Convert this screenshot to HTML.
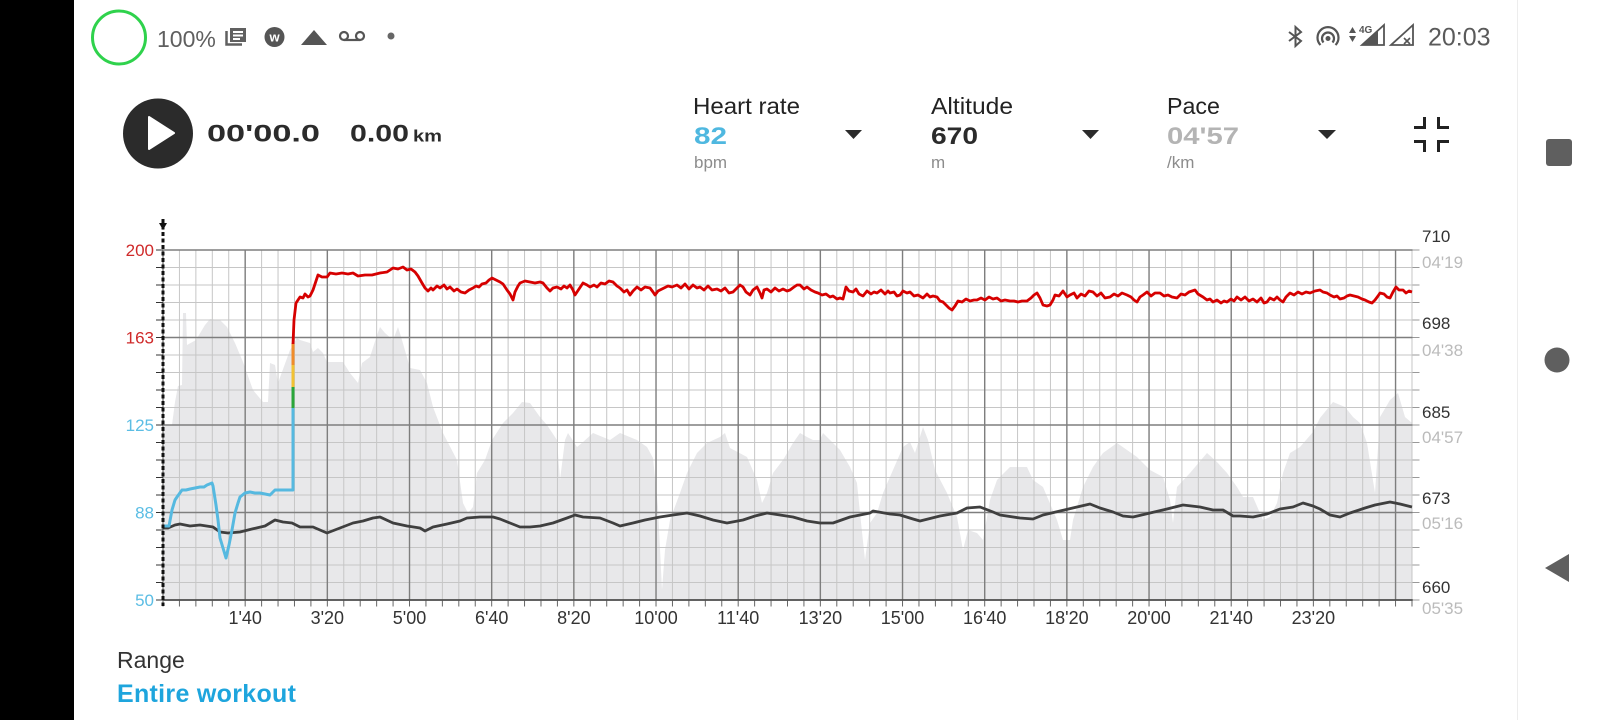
<!DOCTYPE html>
<html><head><meta charset="utf-8">
<style>
html,body{margin:0;padding:0;background:#fff;width:1600px;height:720px;overflow:hidden}
svg{display:block}
text{font-family:"Liberation Sans",Arial,sans-serif}
</style></head>
<body>
<svg width="1600" height="720" viewBox="0 0 1600 720" xmlns="http://www.w3.org/2000/svg">
<rect x="0" y="0" width="1600" height="720" fill="#fff"/>
<!-- left black bar -->
<rect x="0" y="0" width="74" height="720" fill="#000"/>
<!-- right nav bar -->
<line x1="1517.5" y1="0" x2="1517.5" y2="720" stroke="#ededed" stroke-width="1"/>
<rect x="1546" y="139" width="26" height="27" rx="3" fill="#5f5f5f"/>
<circle cx="1557" cy="360" r="12.5" fill="#5f5f5f"/>
<polygon points="1545,568 1569,554 1569,582" fill="#5f5f5f"/>

<!-- status bar left -->
<circle cx="119" cy="37.5" r="26.5" fill="none" stroke="#2fd24c" stroke-width="3"/>
<text x="157" y="47" font-size="23" fill="#5f5f5f">100%</text>
<path d="M226.5,31 V44.5 H242" fill="none" stroke="#606060" stroke-width="2.5"/>
<rect x="230" y="28" width="16" height="14" fill="#606060"/>
<rect x="233" y="31" width="10" height="2" fill="#fff"/>
<rect x="233" y="34.5" width="10" height="2" fill="#fff"/>
<rect x="233" y="38" width="7" height="2" fill="#fff"/>
<circle cx="274.5" cy="37" r="10" fill="#555"/>
<text x="274.5" y="41.5" font-size="13" font-weight="bold" fill="#fff" text-anchor="middle">w</text>
<polygon points="301,45 327,45 314,30" fill="#555"/>
<circle cx="344" cy="36" r="4" fill="none" stroke="#555" stroke-width="2.2"/>
<circle cx="360" cy="36" r="4" fill="none" stroke="#555" stroke-width="2.2"/>
<line x1="344" y1="40" x2="360" y2="40" stroke="#555" stroke-width="2.2"/>
<circle cx="391" cy="36" r="3.5" fill="#666"/>

<!-- status bar right -->
<path d="M1289,32 L1301,41 L1295.5,46 L1295.5,27 L1301,32 L1289,41" fill="none" stroke="#555" stroke-width="2"/>
<circle cx="1328" cy="38.5" r="2.5" fill="#555"/>
<path d="M1323.5,42.5 A6,6 0 1 1 1332.5,42.5" fill="none" stroke="#555" stroke-width="2.2"/>
<path d="M1320.5,45 A10.5,10.5 0 1 1 1335.5,45" fill="none" stroke="#555" stroke-width="2.2"/>
<polygon points="1349,33 1356,33 1352.5,27" fill="#555"/>
<polygon points="1349,36 1356,36 1352.5,42" fill="#555"/>
<text x="1359" y="33" font-size="10" font-weight="bold" fill="#555">4G</text>
<polygon points="1362,45 1384,45 1384,25" fill="none" stroke="#555" stroke-width="1.8"/>
<polygon points="1362,45 1378,45 1378,30.5" fill="#555"/>
<polygon points="1391,45 1413,45 1413,25" fill="none" stroke="#555" stroke-width="1.8"/>
<path d="M1404,38 L1410,44 M1410,38 L1404,44" stroke="#555" stroke-width="1.6"/>
<text x="1428" y="45.5" font-size="25" fill="#5a5a5a">20:03</text>

<!-- header -->
<circle cx="158" cy="133.5" r="35" fill="#2b2b2b"/>
<polygon points="149,117 149,149 174,133" fill="#fff" stroke="#fff" stroke-width="2" stroke-linejoin="round"/>
<text x="207" y="141.5" font-size="24" font-weight="bold" fill="#2b2b2b" textLength="113" lengthAdjust="spacingAndGlyphs">00'00.0</text>
<text x="350" y="141.5" font-size="24" font-weight="bold" fill="#2b2b2b" textLength="59" lengthAdjust="spacingAndGlyphs">0.00</text>
<text x="413" y="141.5" font-size="17" font-weight="bold" fill="#2b2b2b" textLength="29" lengthAdjust="spacingAndGlyphs">km</text>

<text x="693" y="114" font-size="23" fill="#222" textLength="107" lengthAdjust="spacingAndGlyphs">Heart rate</text>
<text x="694" y="144" font-size="24" font-weight="bold" fill="#4fb8e0" textLength="33" lengthAdjust="spacingAndGlyphs">82</text>
<text x="694" y="168" font-size="17" fill="#8c8c8c">bpm</text>
<polygon points="845,130 862,130 853.5,139" fill="#2b2b2b"/>

<text x="931" y="114" font-size="23" fill="#222" textLength="82" lengthAdjust="spacingAndGlyphs">Altitude</text>
<text x="931" y="144" font-size="24" font-weight="bold" fill="#2b2b2b" textLength="47" lengthAdjust="spacingAndGlyphs">670</text>
<text x="931" y="168" font-size="17" fill="#8c8c8c">m</text>
<polygon points="1082,130 1099,130 1090.5,139" fill="#2b2b2b"/>

<text x="1167" y="114" font-size="23" fill="#222" textLength="53" lengthAdjust="spacingAndGlyphs">Pace</text>
<text x="1167" y="144" font-size="24" font-weight="bold" fill="#b4b4b4" textLength="72" lengthAdjust="spacingAndGlyphs">04'57</text>
<text x="1167" y="168" font-size="17" fill="#8c8c8c">/km</text>
<polygon points="1318,130 1336,130 1327,139" fill="#2b2b2b"/>

<path d="M1414,127.5 H1424.5 V117 M1449,127.5 H1438.5 V117 M1414,141.5 H1424.5 V152 M1449,141.5 H1438.5 V152" fill="none" stroke="#222" stroke-width="3"/>

<!-- chart: pace area -->
<polygon fill="#e8e8ea" points="163,600 163,425 172,425 175,402 178,386 182,385 183,313 186,313 187,345 196,340 205,325 210,319 220,320 227,327 235,343 243,362 253,390 263,402 268,402 270,363 275,365 278,383 290,350 297,338 300,340 310,343 313,352 318,348 323,353 327,362 343,362 350,373 358,383 362,363 370,357 377,335 380,327 385,333 393,340 398,327 402,340 410,368 420,370 427,383 433,407 443,433 457,460 463,503 468,513 473,507 477,473 485,460 492,440 503,423 513,413 522,402 530,403 540,417 547,425 557,440 560,480 565,440 568,433 577,447 583,442 593,433 610,440 620,433 637,440 647,447 653,458 658,507 662,590 665,550 670,520 680,493 687,473 697,453 707,443 720,437 725,433 730,448 747,457 757,480 762,503 767,493 773,473 783,460 793,443 800,433 807,437 813,440 820,440 823,433 830,440 840,450 850,467 857,483 860,513 865,560 870,523 877,513 883,493 893,470 903,447 910,442 915,453 923,427 928,440 935,470 947,493 957,517 963,550 968,530 977,533 983,540 990,500 997,480 1010,467 1027,467 1033,480 1043,487 1057,520 1063,540 1070,540 1073,520 1083,487 1093,467 1103,453 1117,443 1127,450 1137,457 1150,470 1163,477 1170,500 1173,523 1177,487 1190,473 1207,453 1217,462 1227,473 1237,487 1243,497 1253,497 1263,520 1270,517 1277,503 1283,473 1290,453 1300,447 1313,432 1320,418 1333,402 1345,407 1353,417 1360,423 1367,443 1375,493 1380,417 1390,400 1398,393 1405,417 1412,423 1412,600"/>

<!-- grid -->
<path d="M162.5,425 H1413.5" stroke="#c6c6c6" stroke-width="350" stroke-dasharray="1 15.434" fill="none"/>
<path d="M787.5,249.5 V601" stroke="#c6c6c6" stroke-width="1250" stroke-dasharray="1 16.5" fill="none"/>
<path d="M162.3,425 H1413.5" stroke="#7e7e7e" stroke-width="350" stroke-dasharray="1.4 80.77" fill="none"/>
<path d="M787.5,249.3 V601" stroke="#7e7e7e" stroke-width="1250" stroke-dasharray="1.4 86.1" fill="none"/>
<line x1="163" y1="600" x2="1413" y2="600" stroke="#444" stroke-width="1.6"/>
<!-- ticks -->
<path d="M159.5,249.5 V601" stroke="#333" stroke-width="7" stroke-dasharray="1 16.5" fill="none"/>
<path d="M1416,249.5 V601" stroke="#999" stroke-width="7" stroke-dasharray="1 16.5" fill="none"/>
<path d="M162.5,603.5 H1413.5" stroke="#666" stroke-width="6" stroke-dasharray="1 15.434" fill="none"/>

<!-- altitude line -->
<polyline fill="none" stroke="#3f3f3f" stroke-width="2.8" stroke-linejoin="round" points="163,528 168,528 175,525 180,524 190,526 200,525 213,527 220,532 228,533 240,532 252,529 265,526 275,520 283,522 292,523 300,527 313,527 320,530 327,533 340,528 353,523 363,521 373,518 380,517 393,523 407,526 420,528 425,531 433,527 447,524 460,521 467,518 480,517 493,517 500,519 510,523 520,527 530,527 540,526 553,523 567,518 575,515 583,517 600,518 613,523 620,526 633,523 645,520 660,517 673,515 687,513 700,516 713,520 727,523 743,520 755,516 767,513 780,515 793,517 807,521 820,523 833,523 850,517 870,513 873,511 890,514 900,515 913,519 920,521 940,516 957,513 967,508 980,507 993,512 1000,515 1020,518 1033,519 1043,515 1060,511 1077,507 1090,504 1100,508 1113,512 1123,516 1133,517 1150,513 1167,509 1183,505 1200,507 1213,510 1223,510 1233,516 1240,516 1253,517 1267,514 1280,509 1293,507 1303,503 1313,506 1320,509 1330,515 1340,517 1350,513 1365,508 1375,505 1390,502 1400,504 1412,507"/>

<!-- heart rate -->
<polyline fill="none" stroke="#56b9e0" stroke-width="3" stroke-linejoin="round" points="163,526 169,526 172,510 175,500 177,497 182,490 186,490 190,489 195,488 200,487 204,487 207,485 212,483 213,486 216,505 218,520 220,538 223,548 226,558 229,545 232,530 235,513 238,503 240,497 245,493 250,492 255,493 260,493 265,494 270,495 273,492 275,490 280,490 285,490 290,490 293,490 293,408"/>
<line x1="293" y1="408" x2="293" y2="387" stroke="#2aa63a" stroke-width="3"/>
<line x1="293" y1="387" x2="293" y2="365" stroke="#f2c233" stroke-width="3"/>
<line x1="293" y1="365" x2="293" y2="343" stroke="#f08c2a" stroke-width="3"/>
<polyline fill="none" stroke="#d60000" stroke-width="2.8" stroke-linejoin="round" points="293,344 294,320 296,303 300,297 303,298 305,294 308,297 310,296 313,290 316,281 318,275 322,277 327,277 330,273 336,274 342,273 348,274 353,273 358,276 365,275 372,275 380,273 387,272 390,270 393,268 398,269 403,267 407,270 411,269 415,272 418,276 422,283 425,288 428,291 431,288 433,290 437,286 440,288 444,285 447,289 450,287 454,291 457,289 461,292 465,293 469,290 473,288 476,286 479,287 482,284 486,283 489,280 492,278 496,280 500,282 503,284 507,290 510,294 513,300 515,292 518,286 520,283 525,281 530,282 535,283 540,282 543,283 547,288 550,291 553,288 557,287 561,289 564,286 567,288 570,285 573,290 575,295 579,289 583,283 587,285 590,287 594,285 597,287 601,283 605,284 609,281 613,282 617,286 620,288 624,292 627,290 630,295 633,291 637,287 641,290 645,287 650,288 653,292 655,295 658,291 660,290 664,288 668,286 672,287 677,285 681,288 685,284 689,289 693,285 697,288 700,287 704,290 708,286 712,290 717,289 721,291 725,288 729,293 733,292 737,288 740,285 743,287 746,292 750,295 753,290 757,287 760,293 762,298 764,290 767,289 771,292 775,288 779,291 783,289 787,291 790,290 794,287 797,285 800,285 804,289 807,287 811,290 815,292 818,293 822,295 826,294 830,297 833,296 837,299 840,298 843,299 846,287 849,291 853,292 856,289 859,294 863,296 867,291 871,294 874,292 877,293 881,290 885,294 888,291 890,293 894,292 897,296 900,295 903,291 907,293 910,292 914,296 918,295 923,298 927,294 930,297 933,296 937,297 940,301 943,302 946,305 949,308 952,310 955,306 958,301 962,302 966,299 970,301 974,300 977,300 981,298 985,300 989,297 993,299 997,298 1001,301 1005,300 1010,301 1014,301 1018,302 1022,301 1027,301 1031,298 1034,295 1037,293 1040,298 1043,305 1047,306 1050,305 1053,300 1055,295 1059,296 1063,291 1067,297 1070,295 1074,293 1077,298 1081,294 1085,296 1089,291 1093,292 1097,296 1101,293 1105,298 1110,297 1114,294 1118,296 1122,293 1127,295 1131,297 1134,300 1137,302 1140,297 1143,295 1147,292 1151,296 1155,293 1160,293 1164,296 1168,295 1172,297 1177,298 1181,294 1185,295 1189,292 1192,291 1195,290 1198,294 1203,297 1207,300 1210,299 1213,302 1217,300 1221,303 1224,301 1227,302 1231,299 1234,301 1237,297 1241,300 1245,297 1249,301 1253,299 1257,302 1261,298 1264,303 1267,302 1270,298 1274,300 1277,297 1280,300 1283,302 1286,297 1290,293 1294,295 1298,292 1302,294 1306,292 1310,293 1315,291 1320,290 1323,292 1327,293 1330,295 1334,297 1337,296 1340,299 1344,298 1347,296 1350,295 1354,296 1358,297 1362,299 1365,300 1369,302 1372,303 1375,300 1378,296 1380,293 1384,294 1387,297 1390,298 1393,292 1396,287 1399,290 1403,290 1406,293 1409,291 1412,292"/>

<!-- left dotted axis -->
<path d="M163,219 V606" stroke="#111" stroke-width="3" stroke-dasharray="4 2.5" fill="none"/>
<polygon points="159,223 167,223 163,230" fill="#111"/>

<!-- left labels -->
<text x="154" y="256" font-size="17" fill="#cf2a2a" text-anchor="end">200</text>
<text x="154" y="343.5" font-size="17" fill="#cf2a2a" text-anchor="end">163</text>
<text x="154" y="431" font-size="17" fill="#5bbde4" text-anchor="end">125</text>
<text x="154" y="518.5" font-size="17" fill="#5bbde4" text-anchor="end">88</text>
<text x="154" y="606" font-size="17" fill="#5bbde4" text-anchor="end">50</text>

<!-- right labels -->
<g font-size="17">
<text x="1422" y="242" fill="#333">710</text>
<text x="1422" y="268" fill="#bbb">04'19</text>
<text x="1422" y="329" fill="#333">698</text>
<text x="1422" y="356" fill="#bbb">04'38</text>
<text x="1422" y="418" fill="#333">685</text>
<text x="1422" y="443" fill="#bbb">04'57</text>
<text x="1422" y="504" fill="#333">673</text>
<text x="1422" y="529" fill="#bbb">05'16</text>
<text x="1422" y="593" fill="#333">660</text>
<text x="1422" y="614" fill="#bbb">05'35</text>
</g>

<!-- x labels -->
<g font-size="18" fill="#333" text-anchor="middle">
<text x="245.2" y="624">1'40</text>
<text x="327.3" y="624">3'20</text>
<text x="409.5" y="624">5'00</text>
<text x="491.7" y="624">6'40</text>
<text x="573.9" y="624">8'20</text>
<text x="656" y="624">10'00</text>
<text x="738.2" y="624">11'40</text>
<text x="820.4" y="624">13'20</text>
<text x="902.5" y="624">15'00</text>
<text x="984.7" y="624">16'40</text>
<text x="1066.9" y="624">18'20</text>
<text x="1149" y="624">20'00</text>
<text x="1231.2" y="624">21'40</text>
<text x="1313.4" y="624">23'20</text>
</g>

<!-- range -->
<text x="117" y="668" font-size="23" fill="#333">Range</text>
<text x="117" y="702" font-size="25" font-weight="bold" fill="#1ea5dd" letter-spacing="0.3">Entire workout</text>
</svg>
</body></html>
